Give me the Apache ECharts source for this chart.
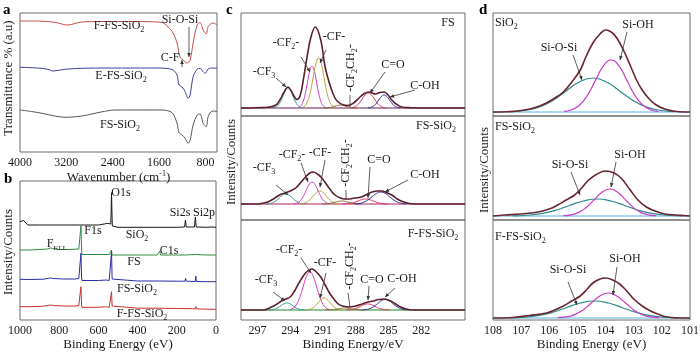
<!DOCTYPE html>
<html>
<head>
<meta charset="utf-8">
<title>FTIR and XPS spectra</title>
<script src="https://cdn.jsdelivr.net/npm/echarts@6.0.0/dist/echarts.min.js"></script>
<style>
html,body{margin:0;padding:0;background:#fff;}
#main{width:700px;height:352px;}
</style>
</head>
<body>
<div id="main"></div>
<script>
// ---------- a: FTIR  [wavenumber, transmittance a.u.] ----------
var ftirFFS = [[4000,131],[3700,131],[3450,130],[3340,129],[3250,127.5],[3170,127],[3050,128.5],[2930,130],[2600,130.5],[2200,130.5],[1900,130.5],[1650,130],[1547,129.5],[1444,125],[1358,119],[1290,109],[1237,95],[1185,92],[1116,89],[1064,92],[1012,109],[943,127],[891,129.5],[840,122],[787,118],[753,125.5],[700,128.5],[667,129],[600,127]];
var ftirEFS = [[4000,84.7],[3700,84],[3516,82.7],[3430,81],[3300,82],[3223,82.7],[2930,83.7],[2500,84],[2000,84],[1668,84],[1496,83.7],[1358,82],[1290,77],[1254,67],[1202,65],[1150,60.3],[1098,53.7],[1064,57],[1012,75.3],[943,82.7],[891,83.7],[840,80.3],[805,78.7],[753,83],[700,84],[600,83.7]];
var ftirFS = [[4000,42],[3800,40.5],[3620,38.7],[3400,36],[3223,34.7],[2930,36],[2600,40],[2359,42],[2000,42],[1547,42],[1375,39.3],[1290,28.7],[1254,19.3],[1202,17],[1150,13.7],[1098,8.7],[1064,12],[1012,27],[943,37],[891,38],[840,28.7],[787,25.3],[753,35.3],[702,40.3],[650,41],[600,40.3]];
var ftirTicks = [800,1600,2400,3200,4000];

// ---------- b: XPS survey  [binding energy, counts a.u.] ----------
var surveySiO2 = [[1000,90.3],[990,90.5],[982,91.5],[978,92.5],[972,90],[960,87],[900,87],[800,87],[700,87],[600,87],[570,88],[555,88.7],[545,87],[537,88],[535,100],[533,119.3],[531,100],[529,86],[525,85],[500,84.7],[400,84.7],[300,84.7],[200,84.7],[160,85],[156,92],[152,85],[110,85],[105,95],[101,85],[50,84.7],[25,85],[0,84.7]];
var surveyFS = [[1000,62],[950,62],[900,62.5],[860,63],[845,64],[835,65.5],[828,63.5],[800,62.5],[750,62.5],[700,63],[692,64],[689,86],[686,64],[684,57.5],[600,57.5],[545,57.5],[535,57.5],[533,62],[531,57],[400,57],[300,57],[291,59],[287,61],[283,57],[200,57],[160,57],[105,57.5],[50,57],[0,57]];
var surveyFSSiO2 = [[1000,32.7],[950,32.5],[880,32.8],[845,34],[835,35.5],[828,33.5],[780,33],[720,33],[700,33.5],[692,35],[689,58.7],[686,35],[684,31.5],[600,31.5],[560,32],[545,31.5],[537,33],[533,60.3],[530,33],[527,31],[400,31],[290,31],[286,32.5],[282,31],[200,30.8],[158,30.8],[155,33.7],[152,30.8],[106,30.5],[103,36],[100,30.5],[50,30.3],[0,30.3]];
var surveyFFS = [[1000,5.3],[950,5.3],[880,5.8],[845,7],[835,8.7],[828,6.5],[780,6],[720,6],[700,6.5],[692,8],[689,25.3],[686,8],[684,4.7],[600,4.7],[560,5.2],[545,4.7],[537,6],[533,20.3],[530,6],[527,4],[400,3.8],[290,3.8],[286,5.5],[282,3.8],[200,3.5],[158,3.5],[155,5],[152,3.5],[106,3.2],[103,5.5],[100,3.2],[50,2.8],[0,2.7]];

// ---------- c: C1s fits (FS / FS-SiO2 / F-FS-SiO2) ----------
var c1sTicks = [282,285,288,291,294,297];
var cFlat = [[298.5,0],[278,0]];

var c1Env = [[298.5,0],[297,0.3],[296,0.8],[295.3,3],[294.9,9],[294.6,15],[294.2,21],[293.9,17],[293.6,11],[293.4,8.5],[293.1,12],[292.8,28],[292.5,48],[292.1,71],[291.7,81],[291.2,68],[290.8,41],[290.3,21],[289.9,10],[289.6,6],[289.1,3],[288.7,2.5],[288.2,5],[287.7,10],[287.2,14.5],[286.8,16],[286.5,15],[286.2,14],[285.8,15.5],[285.4,16],[285,12.5],[284.7,8],[284.3,4],[283.8,1],[283,0.3],[281,0],[278,0]];
var c1CF3 = [[295.55,0.2],[295.325,0.9],[295.1,2.7],[294.875,6.5],[294.65,12.1],[294.425,17.6],[294.2,20],[293.975,17.6],[293.75,12.1],[293.525,6.5],[293.3,2.7],[293.075,0.9],[292.85,0.2]];
var c1CF2 = [[293.26,0.5],[293.05,1.8],[292.84,5.7],[292.63,13.7],[292.42,25.5],[292.21,37],[292,42],[291.79,37],[291.58,25.5],[291.37,13.7],[291.16,5.7],[290.95,1.8],[290.74,0.5]];
var c1CF = [[292.9,0.55],[292.65,2.2],[292.4,6.75],[292.15,16.25],[291.9,30.35],[291.65,44.1],[291.4,50],[291.15,44.1],[290.9,30.35],[290.65,16.25],[290.4,6.75],[290.15,2.2],[289.9,0.55]];
var c1CH2 = [[290.9,0],[290.4,0.4],[289.9,1.8],[289.65,2.6],[289.4,3],[289.15,2.6],[288.9,1.8],[288.4,0.4],[287.9,0]];
var c1CO = [[288.5,0.17],[288.225,0.66],[287.95,2],[287.675,4.9],[287.4,9.1],[287.125,13.2],[286.85,15],[286.575,13.2],[286.3,9.1],[286.025,4.9],[285.75,2],[285.475,0.66],[285.2,0.17]];
var c1COH = [[286.9,0.14],[286.65,0.57],[286.4,1.76],[286.15,4.2],[285.9,7.9],[285.65,11.5],[285.4,13],[285.15,11.5],[284.9,7.9],[284.65,4.2],[284.4,1.76],[284.15,0.57],[283.9,0.14]];

var c2Env = [[298.5,0],[297,0],[296.2,1.5],[295.7,4],[295.2,7.5],[294.8,10],[294.45,11],[294,13],[293.5,16],[293,22],[292.6,27],[292.2,31],[291.9,32],[291.5,30],[291.1,26],[290.7,20],[290.3,14],[289.9,9],[289.4,6],[289,5],[288.7,5],[288.1,6],[287.5,7],[287,9.5],[286.5,12],[286,13],[285.6,13],[285.2,11.5],[284.7,9],[284.2,5],[283.6,2],[282.9,0.3],[281,0],[278,0]];
var c2CF3 = [[296.2,0.11],[295.9,0.44],[295.6,1.35],[295.3,3.25],[295,6.07],[294.7,8.82],[294.4,10],[294.1,8.82],[293.8,6.07],[293.5,3.25],[293.2,1.35],[292.9,0.44],[292.6,0.11]];
var c2CF2 = [[293.65,0.24],[293.375,0.97],[293.1,2.97],[292.825,7.15],[292.55,13.35],[292.275,19.4],[292,22],[291.725,19.4],[291.45,13.35],[291.175,7.15],[290.9,2.97],[290.625,0.97],[290.35,0.24]];
var c2CF = [[293.1,0.14],[292.8,0.57],[292.5,1.76],[292.2,4.2],[291.9,7.9],[291.6,11.5],[291.3,13],[291,11.5],[290.7,7.9],[290.4,4.2],[290.1,1.76],[289.8,0.57],[289.5,0.14]];
var c2CH2 = [[291.1,0],[290.5,0.4],[289.9,1.8],[289.6,2.6],[289.3,3],[289,2.6],[288.7,1.8],[288.1,0.4],[287.5,0]];
var c2CO = [[289.2,0.06],[288.85,0.22],[288.5,0.68],[288.15,1.6],[287.8,3],[287.45,4.4],[287.1,5],[286.75,4.4],[286.4,3],[286.05,1.6],[285.7,0.68],[285.35,0.22],[285,0.06]];
var c2COH = [[288.1,0.13],[287.7,0.53],[287.3,1.62],[286.9,3.9],[286.5,7.3],[286.1,10.6],[285.7,12],[285.3,10.6],[284.9,7.3],[284.5,3.9],[284.1,1.62],[283.7,0.53],[283.3,0.13]];

var c3Env = [[298.5,0],[296.5,0],[295.7,3],[295.2,6],[294.8,9],[294.4,11],[294,13],[293.6,19],[293.2,27],[292.8,34],[292.4,39],[292,41],[291.6,38],[291.2,33],[290.8,25],[290.4,17],[290,11],[289.6,6],[289.2,4],[288.6,3],[288,4],[287.4,6],[286.9,8],[286.4,9],[285.9,10.5],[285.4,11],[284.9,9.5],[284.4,6.5],[283.9,3],[283.4,1],[282.8,0],[278,0]];
var c3CF3 = [[295.95,0.08],[295.675,0.31],[295.4,0.95],[295.125,2.3],[294.85,4.25],[294.575,6.2],[294.3,7],[294.025,6.2],[293.75,4.25],[293.475,2.3],[293.2,0.95],[292.925,0.31],[292.65,0.08]];
var c3CF2 = [[294.06,0.42],[293.75,1.67],[293.44,5.13],[293.13,12.35],[292.82,23.1],[292.51,33.5],[292.2,38],[291.89,33.5],[291.58,23.1],[291.27,12.35],[290.96,5.13],[290.65,1.67],[290.34,0.42]];
var c3CF = [[292.55,0.13],[292.275,0.53],[292,1.62],[291.725,3.9],[291.45,7.3],[291.175,10.6],[290.9,12],[290.625,10.6],[290.35,7.3],[290.075,3.9],[289.8,1.62],[289.525,0.53],[289.25,0.13]];
var c3CH2 = [[290.8,0],[290.2,0.27],[289.6,1.2],[289.3,1.75],[289,2],[288.7,1.75],[288.4,1.2],[287.8,0.27],[287.2,0]];
var c3CO = [[288.85,0.07],[288.525,0.26],[288.2,0.81],[287.875,1.95],[287.55,3.64],[287.225,5.3],[286.9,6],[286.575,5.3],[286.25,3.64],[285.925,1.95],[285.6,0.81],[285.275,0.26],[284.95,0.07]];
var c3COH = [[287.4,0.12],[287.05,0.46],[286.7,1.42],[286.35,3.4],[286,6.4],[285.65,9.3],[285.3,10.5],[284.95,9.3],[284.6,6.4],[284.25,3.4],[283.9,1.42],[283.55,0.46],[283.2,0.12]];

// ---------- d: Si2p fits (SiO2 / FS-SiO2 / F-FS-SiO2) ----------
var dFlat = [[108,0],[101,0]];
var d1Env = [[108,0],[107.5,0.3],[107,1.5],[106.5,4.5],[106.1,9],[105.8,14],[105.5,20],[105.2,30],[104.9,42],[104.7,55],[104.45,69],[104.2,78],[104,82],[103.8,80],[103.6,74],[103.35,61],[103.1,45],[102.9,32],[102.7,22],[102.45,13],[102.2,7],[101.9,3],[101.6,1],[101.2,0],[101,0]];
var d1SiOSi = [[107.36,0.37],[106.875,1.5],[106.39,4.6],[105.905,11.05],[105.42,20.6],[104.935,30],[104.45,34],[103.965,30],[103.48,20.6],[102.995,11.05],[102.51,4.6],[102.025,1.5],[101.54,0.37]];
var d1SiOH = [[105.48,0.57],[105.2,2.3],[104.92,7],[104.64,16.9],[104.36,31.6],[104.08,45.9],[103.8,52],[103.52,45.9],[103.24,31.6],[102.96,16.9],[102.68,7],[102.4,2.3],[102.12,0.57]];

var d2Env = [[108,0],[107.6,1],[107,2],[106.4,4],[106,7],[105.7,11],[105.4,16],[105.1,21],[104.85,28],[104.6,36],[104.3,42],[104,45],[103.7,43],[103.45,38],[103.15,27],[102.85,16],[102.55,9],[102.25,5],[101.9,2],[101.5,1],[101,0]];
var d2SiOSi = [[107.3,0.19],[106.8,0.75],[106.3,2.3],[105.8,5.5],[105.3,10.3],[104.8,15],[104.3,17],[103.8,15],[103.3,10.3],[102.8,5.5],[102.3,2.3],[101.8,0.75],[101.3,0.19]];
var d2SiOH = [[105.5,0.3],[105.225,1.2],[104.95,3.6],[104.675,8.8],[104.4,16.4],[104.125,23.8],[103.85,27],[103.575,23.8],[103.3,16.4],[103.025,8.8],[102.75,3.6],[102.475,1.2],[102.2,0.3]];

var d3Env = [[108,0],[107.3,0.5],[106.7,2.5],[106.1,5],[105.8,8],[105.5,12],[105.2,17],[104.9,22],[104.65,29],[104.45,35],[104.2,39],[104,40],[103.75,38],[103.5,34],[103.25,27],[103,19],[102.7,12],[102.4,7],[102.1,3.5],[101.8,1],[101.3,0],[101,0]];
var d3SiOSi = [[107.4,0.19],[106.9,0.75],[106.4,2.3],[105.9,5.5],[105.4,10.3],[104.9,15],[104.4,17],[103.9,15],[103.4,10.3],[102.9,5.5],[102.4,2.3],[101.9,0.75],[101.4,0.19]];
var d3SiOH = [[105.7,0.28],[105.4,1.1],[105.1,3.4],[104.8,8.1],[104.5,15.2],[104.2,22],[103.9,25],[103.6,22],[103.3,15.2],[103,8.1],[102.7,3.4],[102.4,1.1],[102.1,0.28]];
var si2pTicks = [101,102,103,104,105,106,107,108];

// ---------- layout ----------
var SERIF = '"Liberation Serif","DejaVu Serif",serif';
var INK = '#1a1a1a';
var FRAME = '#6a6a6a';
var RICH = {
  s: {fontSize: 8, fontFamily: SERIF, padding: [8, 0, 0, 0]},
  k: {fontSize: 7, fontFamily: SERIF, padding: [8, 0, 0, 0]},
  sup: {fontSize: 8, fontFamily: SERIF, padding: [0, 0, 8, 0]}
};

var chart = echarts.init(document.getElementById('main'));

var boxes = [
  {left: 20, top: 13, width: 197, height: 139},   // a
  {left: 20, top: 181, width: 196, height: 139},  // b
  {left: 241, top: 13, width: 224, height: 103},  // c FS
  {left: 241, top: 116, width: 224, height: 104}, // c FS-SiO2
  {left: 241, top: 220, width: 224, height: 100}, // c F-FS-SiO2
  {left: 493, top: 13, width: 197, height: 103},  // d SiO2
  {left: 493, top: 116, width: 197, height: 104}, // d FS-SiO2
  {left: 493, top: 220, width: 197, height: 100}  // d F-FS-SiO2
];
var grids = boxes.map(function (b) {
  return {left: b.left, top: b.top, width: b.width, height: b.height, show: true,
    borderColor: FRAME, borderWidth: 1, backgroundColor: 'transparent',
    containLabel: false, outerBoundsMode: 'none'};
});

var yRange = [[0, 139], [-8, 131], [-8, 95], [-16, 88], [-10, 90], [-4, 99], [-4, 100], [-2, 98]];
var yAxes = yRange.map(function (r, i) {
  return {type: 'value', gridIndex: i, min: r[0], max: r[1], show: false};
});

function xAxis(i, min, max, opts) {
  var o = {
    type: 'value', gridIndex: i, min: min, max: max, inverse: true,
    show: !!opts, axisLine: {show: false}, axisTick: {show: false}, splitLine: {show: false}
  };
  if (opts) {
    o.axisLabel = {color: INK, fontFamily: SERIF, fontSize: 12, margin: 5,
      showMinLabel: true, showMaxLabel: true, hideOverlap: false,
      formatter: function (v) { return String(v); }};
    if (opts.ticks) o.axisLabel.customValues = opts.ticks;
    if (opts.interval) o.interval = opts.interval;
    o.name = opts.name;
    o.nameLocation = 'middle';
    o.nameGap = opts.gap;
    o.nameTextStyle = {color: INK, fontFamily: SERIF, fontSize: 13, rich: RICH};
  }
  return o;
}

var xAxes = [
  xAxis(0, 600, 4000, {ticks: ftirTicks, name: 'Wavenumber (cm{sup|-1})', gap: 17}),
  xAxis(1, 0, 1000, {interval: 200, name: 'Binding Energy (eV)', gap: 17}),
  xAxis(2, 278, 298.5),
  xAxis(3, 278, 298.5),
  xAxis(4, 278, 298.5, {ticks: c1sTicks, name: 'Binding Energy/eV', gap: 17}),
  xAxis(5, 101, 108),
  xAxis(6, 101, 108),
  xAxis(7, 101, 108, {ticks: si2pTicks, name: 'Binding Energy (eV)', gap: 17})
];

function line(g, data, color, width, smooth, z) {
  return {
    type: 'line', xAxisIndex: g, yAxisIndex: g, data: data,
    showSymbol: false, symbol: 'none', silent: true,
    smooth: smooth, z: z || 2,
    lineStyle: {color: color, width: width || 1}
  };
}

var TEAL = '#2a9a9a', MAG = '#d03ec8', OLIVE = '#b8a030', BROWN = '#8a6a3a',
    CRIMSON = '#e03060', NAVY = '#2c2c9a', MAROON = '#5c1f2e';

var series = [
  line(0, ftirFFS, '#c4504c', 1, 0.3),
  line(0, ftirEFS, '#3c3ca0', 1, 0.3),
  line(0, ftirFS, '#555555', 1, 0.3),

  line(1, surveySiO2, '#151515', 1, false),
  line(1, surveyFS, '#2e8b3e', 1, false),
  line(1, surveyFSSiO2, '#2a2aa8', 1, false),
  line(1, surveyFFS, '#c83030', 1, false)
];

[[2, c1Env, c1CF3, c1CF2, c1CF, c1CH2, c1CO, c1COH, '#5a2050'],
 [3, c2Env, c2CF3, c2CF2, c2CF, c2CH2, c2CO, c2COH, '#b02060'],
 [4, c3Env, c3CF3, c3CF2, c3CF, c3CH2, c3CO, c3COH, '#1e8a1e']].forEach(function (p) {
  var g = p[0];
  series.push(line(g, cFlat, p[8], 1, false));
  series.push(line(g, p[2], TEAL, 1, true));
  series.push(line(g, p[3], MAG, 1, true));
  series.push(line(g, p[4], OLIVE, 1, true));
  series.push(line(g, p[5], BROWN, 1, true));
  series.push(line(g, p[6], CRIMSON, 1, true));
  series.push(line(g, p[7], NAVY, 1, true));
  series.push(line(g, p[1], MAROON, 1.6, 0.4, 5));
});

[[5, d1Env, d1SiOSi, d1SiOH], [6, d2Env, d2SiOSi, d2SiOH], [7, d3Env, d3SiOSi, d3SiOH]].forEach(function (p) {
  var g = p[0];
  series.push(line(g, dFlat, '#5ab4dc', 1.2, false));
  series.push(line(g, p[2], '#2e8a8a', 1.2, true));
  series.push(line(g, p[3], '#c83cc8', 1.2, true));
  series.push(line(g, p[1], '#6a2532', 1.6, 0.4, 5));
});

// ---------- annotations (pixel positions) ----------
var labels = [
  // a
  [119, 26, 'F-FS-SiO{s|2}'], [180, 20, 'Si-O-Si'], [170, 58, 'C-F'],
  [121, 76, 'E-FS-SiO{s|2}'], [120, 125, 'FS-SiO{s|2}'],
  // b
  [121, 193, 'O1s'], [180, 213, 'Si2s'], [204, 213, 'Si2p'], [93, 231, 'F1s'],
  [137, 235, 'SiO{s|2}'], [57, 244, 'F{k|KLL}'], [169, 251, 'C1s'], [134, 262, 'FS'],
  [137, 289, 'FS-SiO{s|2}'], [142, 314, 'F-FS-SiO{s|2}'],
  // c
  [448, 23, 'FS'], [264, 72, '-CF{s|3}'], [286, 43, '-CF{s|2}-'], [334, 37, '-CF-'],
  [393, 65, 'C=O'], [425, 86, 'C-OH'],
  [436, 126, 'FS-SiO{s|2}'], [264, 168, '-CF{s|3}'], [292, 155, '-CF{s|2}-'], [320, 153, '-CF-'],
  [379, 160, 'C=O'], [425, 175, 'C-OH'],
  [433, 234, 'F-FS-SiO{s|2}'], [266, 280, '-CF{s|3}'], [289, 250, '-CF{s|2}-'], [325, 263, '-CF-'],
  [372, 280, 'C=O'], [402, 279, 'C-OH'],
  // d
  [559, 48, 'Si-O-Si'], [638, 25, 'Si-OH'],
  [570, 165, 'Si-O-Si'], [630, 155, 'Si-OH'],
  [568, 270, 'Si-O-Si'], [625, 259, 'Si-OH']
];
var leftLabels = [[495, 23, 'SiO{s|2}'], [495, 127, 'FS-SiO{s|2}'], [495, 237, 'F-FS-SiO{s|2}']];
var vertLabels = [[351, 68, '-CF{s|2}CH{s|2}-'], [346, 163, '-CF{s|2}CH{s|2}-'], [350, 266, '-CF{s|2}CH{s|2}-']];
var arrows = [
  [189, 27, 189, 57, 1], [182, 67, 182, 60, 1],
  [276, 78, 286, 87, 1], [301, 57, 310, 72, 1], [326, 50, 320, 63, 1], [350, 95, 350, 107, 0],
  [385, 72, 370, 93, 1], [415, 90, 390, 97, 1],
  [276, 185, 288, 195, 1], [301, 163, 308, 182, 1], [325, 160, 320, 187, 1], [346, 190, 346, 200, 0],
  [370, 167, 368, 198, 1], [408, 180, 385, 192, 1],
  [273, 292, 285, 301, 1], [301, 258, 311, 273, 1], [326, 273, 320, 298, 1], [348, 293, 350, 307, 0],
  [369, 286, 368, 300, 1], [395, 288, 385, 297, 1],
  [573, 55, 582, 80, 1], [627, 32, 620, 60, 1],
  [571, 172, 580, 195, 1], [616, 162, 611, 187, 1],
  [568, 282, 577, 305, 1], [617, 267, 613, 295, 1]
];
var axisTitles = [[9, 78, 'Transmittance % (a.u)'], [9, 252, 'Intensity/Counts'],
  [232, 162, 'Intensity/Counts'], [485, 170, 'Intensity/Counts']];
var panelTags = [[3, 3, 'a'], [4, 172, 'b'], [226, 3, 'c'], [479, 3, 'd']];

function textEl(x, y, text, align, rot, size) {
  return {type: 'text', x: x, y: y, rotation: rot || 0, silent: true, z: 10,
    style: {text: text, fill: INK, fontFamily: SERIF, fontSize: size || 12,
      align: align || 'center', verticalAlign: 'middle', rich: RICH}};
}
var graphics = [];
labels.forEach(function (l) { graphics.push(textEl(l[0], l[1], l[2])); });
leftLabels.forEach(function (l) { graphics.push(textEl(l[0], l[1], l[2], 'left')); });
vertLabels.forEach(function (l) { graphics.push(textEl(l[0], l[1], l[2], 'center', Math.PI / 2)); });
axisTitles.forEach(function (l) { graphics.push(textEl(l[0], l[1], l[2], 'center', Math.PI / 2, 13)); });
panelTags.forEach(function (l) {
  graphics.push({type: 'text', x: l[0], y: l[1], silent: true, z: 10,
    style: {text: l[2], fill: '#000', fontFamily: SERIF, fontSize: 15, fontWeight: 'bold',
      align: 'left', verticalAlign: 'top'}});
});
arrows.forEach(function (a) {
  graphics.push({type: 'line', silent: true, z: 10,
    shape: {x1: a[0], y1: a[1], x2: a[2], y2: a[3]},
    style: {stroke: '#333', lineWidth: 0.8}});
  if (a[4]) {
    var ang = Math.atan2(a[3] - a[1], a[2] - a[0]), L = 4, W = 1.8;
    var bx = a[2] - L * Math.cos(ang), by = a[3] - L * Math.sin(ang);
    graphics.push({type: 'polygon', silent: true, z: 10,
      shape: {points: [[a[2], a[3]], [bx - W * Math.sin(ang), by + W * Math.cos(ang)],
        [bx + W * Math.sin(ang), by - W * Math.cos(ang)]]},
      style: {fill: '#333'}});
  }
});

chart.setOption({
  animation: false,
  backgroundColor: '#ffffff',
  grid: grids,
  xAxis: xAxes,
  yAxis: yAxes,
  series: series,
  graphic: graphics
});
</script>
</body>
</html>
